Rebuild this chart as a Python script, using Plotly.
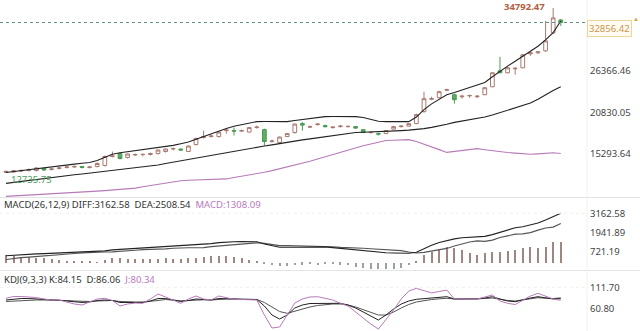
import plotly.graph_objects as go

idx = list(range(74))

opens = [12786, 12852, 12985, 13052, 13052, 13319, 13186, 13319, 13453, 13519,
         13586, 13453, 13586, 13720, 14920, 15320, 14787, 15120, 15187, 15187,
         15320, 15587, 15921, 15921, 15587, 16521, 17455, 17588, 17588, 18389,
         18389, 18322, 18189, 18789, 18522, 16921, 16788, 17588, 18122, 19322,
         18855, 19189, 19056, 18789, 18922, 18922, 18922, 18522, 18122, 17988,
         17988, 18589, 18922, 18989, 19322, 20923, 22590, 22791, 23791, 23191,
         22924, 23058, 22924, 23191, 24258, 26393, 26126, 26659, 26793, 28660,
         28794, 29061, 31462, 33196]
highs = [13052, 13119, 13186, 13319, 13453, 13453, 13386, 13519, 13720, 13720,
         13653, 13653, 14120, 15054, 15587, 15454, 15320, 15320, 15320, 15454,
         15854, 15988, 16121, 15988, 16388, 17455, 18389, 17855, 18255, 18655,
         18789, 18522, 18855, 19056, 18655, 17188, 17588, 18055, 19322, 19522,
         19056, 19389, 19189, 18989, 19122, 19056, 18989, 18589, 18255, 18122,
         18455, 18989, 19122, 19389, 20656, 23591, 22924, 23724, 23991, 23324,
         23191, 23191, 23124, 24191, 26193, 28260, 26926, 26860, 28660, 28927,
         28994, 33063, 34792.47, 33329]
lows = [12735.75, 12786, 12852, 12919, 12919, 12985, 13052, 13186, 13319, 13386,
        13319, 13319, 13453, 13586, 14787, 14520, 14653, 14987, 14920, 15054,
        15187, 15454, 15721, 15654, 15521, 16388, 17321, 17455, 17455, 17988,
        17722, 18255, 18122, 18655, 16388, 16788, 16654, 17522, 17988, 18389,
        18722, 19056, 18789, 18655, 18789, 18789, 18589, 18055, 17988, 17722,
        17922, 18522, 18789, 18922, 19256, 20790, 22457, 22724, 23658, 21990,
        22657, 22791, 22724, 23124, 24191, 26059, 26059, 25859, 26726, 28394,
        28660, 28927, 31328, 32396]
closes = [12919, 12985, 13052, 13119, 13386, 13119, 13252, 13386, 13519, 13586,
          13453, 13519, 13986, 14920, 14987, 14653, 15254, 15187, 15200, 15320,
          15788, 15921, 15988, 15788, 16321, 17321, 17588, 17655, 18189, 18455,
          18322, 18389, 18789, 18855, 16921, 16988, 17522, 17988, 19256, 19122,
          18900, 19256, 18922, 18855, 18989, 18950, 18722, 18122, 18150, 17922,
          18389, 18922, 18989, 19322, 20523, 22657, 22657, 23591, 23858, 22524,
          22991, 23070, 22991, 24125, 26126, 26126, 26793, 26726, 28527, 28794,
          28927, 30395, 33463, 32856.42]

boll_upper = [12786, 12919, 13053, 13186, 13319, 13453, 13586, 13720, 13813, 13906,
              14013, 14120, 14387, 14840, 15227, 15427, 15561, 15694, 15827, 15947,
              16081, 16228, 16414, 16628, 16855, 17228, 17602, 17975, 18322, 18669,
              18962, 19162, 19456, 19589, 19600, 19580, 19570, 19590, 19749, 19896,
              20056, 20203, 20256, 20270, 20280, 20260, 20250, 20149, 19896, 19643,
              19589, 19580, 19575, 19590, 20203, 21190, 21964, 22564, 23191, 23484,
              23805, 24125, 24458, 24818, 25592, 26353, 27020, 27673, 28367, 29007,
              29674, 30528, 31502, 33063]
boll_mid = [11318, 11452, 11585, 11732, 11865, 12012, 12145, 12266, 12372, 12479,
            12586, 12706, 12759, 12866, 12986, 13106, 13226, 13346, 13466, 13600,
            13786, 13986, 14173, 14360, 14547, 14733, 14907, 15080, 15254, 15427,
            15614, 15801, 15974, 16148, 16321, 16481, 16668, 16855, 17001, 17148,
            17281, 17415, 17561, 17722, 17882, 18015, 18135, 18162, 18188, 18228,
            18255, 18322, 18389, 18455, 18522, 18655, 18815, 18989, 19242, 19482,
            19656, 19843, 20016, 20203, 20470, 20776, 21083, 21377, 21684, 22070,
            22577, 23178, 23751, 24258]
boll_lower = [9584, 9638, 9678, 9744, 9784, 9838, 9878, 9931, 9984, 10051,
              10131, 10211, 10291, 10358, 10438, 10518, 10598, 10691, 10865, 11025,
              11185, 11345, 11505, 11679, 11732, 11759, 11785, 11812, 11839, 11919,
              12105, 12266, 12439, 12586, 12812, 13026, 13266, 13506, 13760, 14026,
              14293, 14573, 14867, 15174, 15481, 15787, 16107, 16348, 16588, 16828,
              17055, 17095, 17135, 17175, 16921, 16588, 16214, 15841, 15467, 15587,
              15721, 15854, 15974, 15827, 15681, 15547, 15454, 15374, 15294, 15214,
              15267, 15387, 15414, 15320]

macd_diff = [437, 475, 507, 533, 552, 571, 591, 610, 616, 636,
             648, 668, 681, 745, 809, 841, 873, 899, 931, 944,
             976, 1002, 1027, 1059, 1085, 1111, 1149, 1213, 1278, 1329,
             1335, 1340, 1338, 1330, 1188, 1059, 976, 982, 989, 995,
             1002, 1014, 1002, 957, 905, 854, 803, 751, 693, 642,
             623, 610, 603, 597, 661, 899, 1104, 1290, 1419, 1515,
             1592, 1618, 1637, 1676, 1791, 1952, 2093, 2228, 2298, 2408,
             2536, 2729, 2947, 3162.58]
macd_dea = [190, 260, 314, 345, 392, 433, 485, 524, 552, 581,
            616, 646, 668, 675, 685, 706, 750, 790, 825, 830,
            850, 875, 920, 955, 947, 951, 957, 1018, 1063, 1105,
            1143, 1202, 1242, 1266, 1230, 1133, 1082, 1087, 1075, 1059,
            1064, 1079, 1050, 1007, 969, 934, 931, 911, 885, 850,
            828, 802, 763, 677, 613, 652, 751, 840, 905, 1056,
            1185, 1320, 1390, 1355, 1438, 1602, 1708, 1821, 1839, 1917,
            2077, 2216, 2273, 2508.54]
macd_hist = [494, 430, 385, 380, 321, 276, 212, 173, 128, 109,
             64, 45, 26, 173, 276, 270, 238, 212, 205, 257,
             250, 260, 212, 210, 276, 321, 385, 390, 430, 449,
             385, 276, 193, 128, -83, -148, -212, -210, -173, -128,
             -125, -130, -96, -100, -128, -160, -257, -321, -385, -417,
             -410, -385, -321, -160, 96, 494, 706, 899, 1027, 918,
             815, 597, 494, 642, 706, 700, 770, 815, 918, 982,
             918, 1027, 1348, 1308.09]

kdj_k = [80.9, 83.3, 84.5, 84.5, 83.8, 82.1, 80.9, 80.2, 78.5, 76.1,
         74.9, 76.1, 79.7, 80.9, 79.7, 74.9, 74.9, 74.9, 74.9, 78.5,
         84.5, 84.5, 80.9, 77.3, 79.7, 83.3, 82.1, 80.9, 84.5, 84.5,
         83.3, 82.6, 82.6, 82.1, 66.4, 44.5, 34.8, 44.5, 61.5, 68.8,
         72.4, 72.9, 72.9, 72.9, 72.9, 68.8, 61.5, 51.8, 42.1, 32.4,
         44.5, 59.1, 71.2, 78.5, 82.6, 84.5, 86.9, 88.2, 88.9, 83.3,
         83.3, 83.3, 83.3, 85.7, 88.9, 83.3, 78.5, 76.8, 82.1, 85.7,
         88.9, 85.7, 83.3, 84.15]
kdj_d = [77.3, 78.5, 79.7, 80.9, 80.9, 80.9, 80.9, 80.2, 79.7, 78.5,
         77.3, 77.3, 78.5, 79.7, 79.7, 77.3, 76.1, 76.1, 76.1, 77.3,
         79.7, 82.1, 80.9, 79.0, 79.7, 80.9, 81.4, 80.9, 82.6, 83.3,
         83.3, 82.6, 82.6, 82.1, 74.9, 64.0, 53.0, 48.6, 54.2, 59.1,
         64.0, 67.6, 70.0, 71.2, 71.2, 68.8, 64.0, 57.9, 51.8, 44.5,
         44.5, 51.8, 61.5, 70.0, 76.1, 79.7, 82.1, 83.8, 85.0, 83.3,
         83.3, 83.3, 83.3, 84.5, 85.7, 82.1, 79.7, 78.5, 80.9, 83.8,
         86.5, 85.3, 84.5, 86.06]
kdj_j = [85.0, 89.4, 89.4, 88.2, 86.9, 83.3, 80.9, 80.9, 76.1, 71.2,
         68.8, 76.1, 83.3, 85.0, 79.7, 66.4, 71.2, 73.6, 72.9, 83.3,
         95.4, 88.2, 80.9, 72.9, 83.3, 90.6, 83.3, 80.9, 90.6, 86.9,
         82.6, 82.1, 82.1, 80.9, 44.5, 13.0, 15.5, 44.5, 73.6, 83.3,
         88.2, 88.9, 85.7, 80.9, 72.9, 66.4, 51.8, 37.3, 22.7, 10.6,
         32.4, 56.7, 83.3, 102.7, 109.2, 102.7, 97.9, 101.5, 105.1, 83.3,
         83.3, 83.3, 83.3, 88.2, 93.0, 78.5, 72.9, 70.0, 80.9, 90.6,
         97.1, 90.6, 83.3, 80.34]

price_ticks = [26366.46, 20830.05, 15293.64]
macd_ticks = [3162.58, 1941.89, 721.19]
kdj_ticks = [111.70, 60.80]
last_price = 32856.42
max_price = 34792.47
min_price = 12735.75

FONT = "Noto Sans"
PURPLE = "#b77ab9"
FS = 9.5

fig = go.Figure()

fig.add_trace(go.Candlestick(
    x=idx, open=opens, high=highs, low=lows, close=closes,
    xaxis="x", yaxis="y", whiskerwidth=0,
    increasing=dict(line=dict(color="#a87a70", width=1), fillcolor="#ffffff"),
    decreasing=dict(line=dict(color="#4e9a55", width=1), fillcolor="#5fae63"),
    hoverinfo="skip", showlegend=False))

fig.add_trace(go.Scatter(x=idx, y=boll_upper, mode="lines", yaxis="y",
                         line=dict(color="#222222", width=1.1), hoverinfo="skip"))
fig.add_trace(go.Scatter(x=idx, y=boll_mid, mode="lines", yaxis="y",
                         line=dict(color="#222222", width=1.1), hoverinfo="skip"))
fig.add_trace(go.Scatter(x=idx, y=boll_lower, mode="lines", yaxis="y",
                         line=dict(color=PURPLE, width=1.1), hoverinfo="skip"))

hist_colors = ["#a08580" if v >= 0 else "#9aa39a" for v in macd_hist]
fig.add_trace(go.Bar(x=idx, y=macd_hist, yaxis="y2", width=0.15,
                     marker=dict(color=hist_colors, line=dict(width=0)),
                     hoverinfo="skip"))
fig.add_trace(go.Scatter(x=idx, y=macd_dea, mode="lines", yaxis="y2",
                         line=dict(color="#555555", width=1.1), hoverinfo="skip"))
fig.add_trace(go.Scatter(x=idx, y=macd_diff, mode="lines", yaxis="y2",
                         line=dict(color="#222222", width=1.1), hoverinfo="skip"))

fig.add_trace(go.Scatter(x=idx, y=kdj_d, mode="lines", yaxis="y3",
                         line=dict(color="#555555", width=1), hoverinfo="skip"))
fig.add_trace(go.Scatter(x=idx, y=kdj_k, mode="lines", yaxis="y3",
                         line=dict(color="#222222", width=1), hoverinfo="skip"))
fig.add_trace(go.Scatter(x=idx, y=kdj_j, mode="lines", yaxis="y3",
                         line=dict(color=PURPLE, width=1), hoverinfo="skip"))

H = 331.0
def py(pix):
    return 1 - pix / H

annotations = []
for v in price_ticks:
    annotations.append(dict(x=1, xref="paper", y=v, yref="y", text=f"{v:.2f}",
                            showarrow=False, xanchor="left", xshift=1,
                            font=dict(size=FS, color="#444444", family=FONT)))
for v in macd_ticks:
    annotations.append(dict(x=1, xref="paper", y=v, yref="y2", text=f"{v:.2f}",
                            showarrow=False, xanchor="left", xshift=1,
                            font=dict(size=FS, color="#444444", family=FONT)))
for v in kdj_ticks:
    annotations.append(dict(x=1, xref="paper", y=v, yref="y3", text=f"{v:.2f}",
                            showarrow=False, xanchor="left", xshift=1,
                            font=dict(size=FS, color="#444444", family=FONT)))

annotations.append(dict(x=1, xref="paper", y=last_price, yref="y", text=f"{last_price:.2f}",
                        showarrow=False, xanchor="left", xshift=0, yshift=-6,
                        bgcolor="#fffbf0", bordercolor="#f0d49a", borderwidth=1, borderpad=1,
                        font=dict(size=FS, color="#c9954c", family=FONT)))
annotations.append(dict(x=1, xref="paper", y=last_price, yref="y", text="▲",
                        showarrow=False, xanchor="left", xshift=44, yshift=3,
                        font=dict(size=6, color="#e0a040", family=FONT)))
annotations.append(dict(x=72, xref="x", y=1, yref="paper", yanchor="top", text=f"<b>{max_price:.2f}</b>",
                        showarrow=False, xanchor="right", xshift=-6, yshift=2,
                        font=dict(size=FS, color="#b0603f", family=FONT)))
annotations.append(dict(x=0, xref="x", y=min_price, yref="y", text=f"{min_price:.2f}",
                        showarrow=False, xanchor="left", xshift=3, yshift=-7,
                        font=dict(size=FS, color="#4f9a5f", family=FONT)))

annotations.append(dict(x=0, xref="paper", y=py(204), yref="paper", xanchor="left", xshift=2,
                        yanchor="middle", showarrow=False,
                        text=f"MACD(26,12,9) DIFF:{macd_diff[-1]:.2f}&nbsp;&nbsp;DEA:{macd_dea[-1]:.2f}&nbsp;&nbsp;"
                             f"<span style='color:{PURPLE}'>MACD:{macd_hist[-1]:.2f}</span>",
                        font=dict(size=FS, color="#333333", family=FONT)))
annotations.append(dict(x=0, xref="paper", y=py(279), yref="paper", xanchor="left", xshift=2,
                        yanchor="middle", showarrow=False,
                        text=f"KDJ(9,3,3) K:{kdj_k[-1]:.2f}&nbsp;&nbsp;D:{kdj_d[-1]:.2f}&nbsp;&nbsp;"
                             f"<span style='color:{PURPLE}'>J:{kdj_j[-1]:.2f}</span>",
                        font=dict(size=FS, color="#333333", family=FONT)))

PLOT_W = 587.0
x_end = 640.0 / PLOT_W
shapes = [
    dict(type="line", xref="paper", yref="y", x0=0, x1=1, y0=last_price, y1=last_price,
         line=dict(color="#5f8f80", width=1, dash="dot")),
    dict(type="line", xref="paper", yref="paper", x0=0, x1=x_end, y0=py(197.5), y1=py(197.5),
         line=dict(color="#e4e4e4", width=1)),
    dict(type="line", xref="paper", yref="paper", x0=0, x1=x_end, y0=py(270.5), y1=py(270.5),
         line=dict(color="#e4e4e4", width=1)),
    dict(type="line", xref="paper", yref="paper", x0=1, x1=1, y0=0, y1=1,
         line=dict(color="#f2f2f2", width=1)),
]
for v in macd_ticks[:1]:
    shapes.append(dict(type="line", xref="paper", yref="y2", x0=0, x1=1, y0=v, y1=v,
                       line=dict(color="#f0f0f0", width=1, dash="dot")))
for v in kdj_ticks[:1]:
    shapes.append(dict(type="line", xref="paper", yref="y3", x0=0, x1=1, y0=v, y1=v,
                       line=dict(color="#f0f0f0", width=1, dash="dot")))

fig.update_layout(
    width=640, height=331,
    margin=dict(l=0, r=640 - PLOT_W, t=0, b=0),
    paper_bgcolor="white", plot_bgcolor="white",
    showlegend=False, bargap=0,
    font=dict(family=FONT),
    xaxis=dict(domain=[0, 1], range=[-0.79, 76.45], visible=False, anchor="y3",
               rangeslider=dict(visible=False), fixedrange=True),
    yaxis=dict(domain=[py(197), 1], range=[9500, 35864], visible=False),
    yaxis2=dict(domain=[py(270), py(208)], range=[-481, 3499], visible=False),
    yaxis3=dict(domain=[0, py(283)], range=[5.8, 122.1], visible=False),
    annotations=annotations, shapes=shapes,
)

fig.write_html("out.html")
